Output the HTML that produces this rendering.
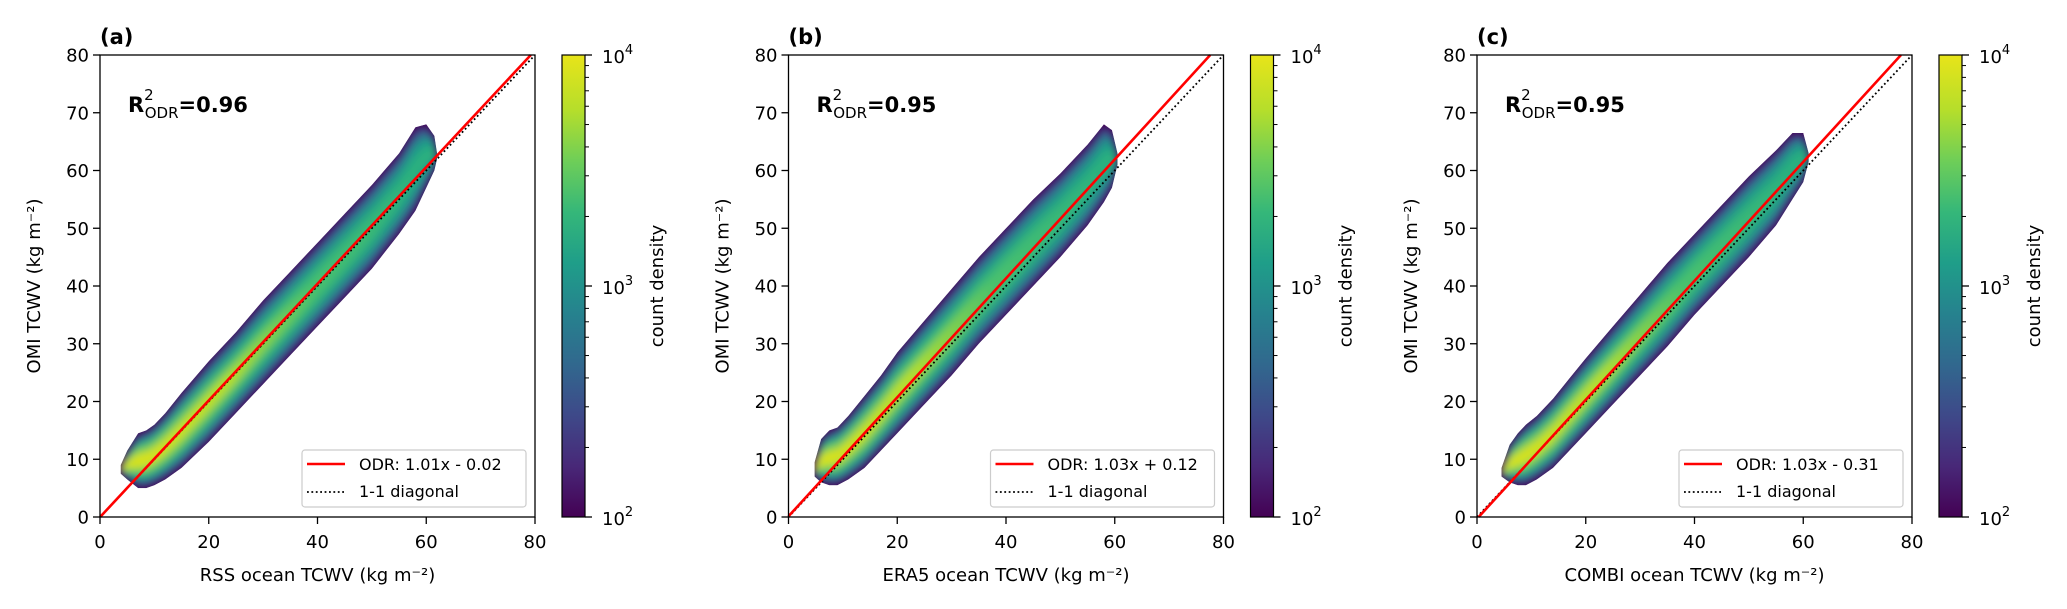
<!DOCTYPE html>
<html><head><meta charset="utf-8">
<style>
html,body{margin:0;padding:0;background:#fff;}
svg{display:block;font-family:"DejaVu Sans","Liberation Sans",sans-serif;}
</style></head>
<body>
<svg id="fig" width="2067" height="609" viewBox="0 0 2067 609" xmlns="http://www.w3.org/2000/svg">
<defs>
<linearGradient id="viridis" x1="0" y1="1" x2="0" y2="0">
<stop offset="0" stop-color="#440154"/><stop offset="0.11" stop-color="#482878"/>
<stop offset="0.22" stop-color="#3e4989"/><stop offset="0.33" stop-color="#31688e"/>
<stop offset="0.44" stop-color="#26828e"/><stop offset="0.55" stop-color="#1f9e89"/>
<stop offset="0.66" stop-color="#35b779"/><stop offset="0.77" stop-color="#6ece58"/>
<stop offset="0.88" stop-color="#b5de2b"/><stop offset="1" stop-color="#e8e419"/>
</linearGradient>
<filter id="blur" x="-10%" y="-10%" width="120%" height="120%"><feGaussianBlur stdDeviation="4"/></filter>
</defs>
</svg>
<script>
// ---- data ----
const panelLetters = ['(a)','(b)','(c)'];
const xLabels = ['RSS ocean TCWV (kg m⁻²)','ERA5 ocean TCWV (kg m⁻²)','COMBI ocean TCWV (kg m⁻²)'];
const r2Values = ['0.96','0.95','0.95'];
const odrSlopes = [1.01, 1.03, 1.03];
const odrIntercepts = [-0.02, 0.12, -0.31];
const odrLabels = ['ODR: 1.01x - 0.02','ODR: 1.03x + 0.12','ODR: 1.03x - 0.31'];
const axisTicks = [0,20,40,60,80];
const yTicks = [0,10,20,30,40,50,60,70,80];
const cbTickLabels = ['2','3','4'];
const cloudX_a = [3.8,5,7,8.5,10,12,15,20,25,30,35,40,45,50,55,58,60,61.5,62];
const cloudUpper_a = [9,11.5,14.5,15,16,18,21.5,27,32,37.5,42.5,47.5,52.5,57.5,63,67.5,68,66,63];
const cloudLower_a = [7.5,6.5,5,5,5.5,6.5,8.5,13,18,23,28,33,38,43,49,53,57,60,62];
const cloudX_b = [4.8,6,7.5,9,11,14,17,20,25,30,35,40,45,50,55,58,59.5,60.5];
const cloudUpper_b = [9.5,13.5,15,15.5,17.5,21,24.5,28.5,34,39.5,45,50,55,59.5,64.5,68,67,63];
const cloudLower_b = [7,6,5.5,5.5,6.5,8.5,11.5,14.5,19.5,24.5,30,35,40,45,50.5,54.5,57,61];
const cloudX_c = [4.5,6,7.5,9,11,14,17,20,25,30,35,40,45,50,55,58,60,61];
const cloudUpper_c = [8.5,12.5,14.5,16,17.5,20.5,24,27.5,33,38.5,44,49,54,59,63.5,66.5,66.5,63];
const cloudLower_c = [7,6,5.5,5.5,6.5,8.5,11.5,14.5,19.5,24.5,29.5,35,40,45,50.5,55,58,61.5];
const cloudXs = [cloudX_a, cloudX_b, cloudX_c];
const cloudUppers = [cloudUpper_a, cloudUpper_b, cloudUpper_c];
const cloudLowers = [cloudLower_a, cloudLower_b, cloudLower_c];

// ---- layout ----
const NS='http://www.w3.org/2000/svg';
const svg=document.getElementById('fig');
const defs=svg.querySelector('defs');
const W=435,H=462,T=55,B=517,DMAX=80;
function mk(tag,attrs,parent){const e=document.createElementNS(NS,tag);for(const k in attrs)e.setAttribute(k,attrs[k]);(parent||svg).appendChild(e);return e;}
const levels=[
 {f:0.95,stops:[[0,'#433e85'],[1,'#433e85']]},
 {f:0.85,stops:[[0,'#2f6b8e'],[1,'#38588c']]},
 {f:0.68,stops:[[0,'#22a884'],[0.5,'#21918c'],[1,'#23898e']]},
 {f:0.48,stops:[[0,'#7ad151'],[0.4,'#3dbc74'],[1,'#20a386']]},
 {f:0.25,stops:[[0,'#d8e219'],[0.3,'#b5de2b'],[0.6,'#4ac16d'],[1,'#2ab07f']]}
];
for(let p=0;p<3;p++){
  const L=100+688.5*p;
  const sx=v=>L+v/DMAX*W, sy=v=>B-v/DMAX*H;
  const g=mk('g',{});  
  const xs=cloudXs[p],up=cloudUppers[p],lo=cloudLowers[p];
  function poly(f){const a=[],b=[];for(let i=0;i<xs.length;i++){const c=(up[i]+lo[i])/2,h=(up[i]-lo[i])/2*f;a.push(sx(xs[i]).toFixed(1)+','+sy(c+h).toFixed(1));b.push(sx(xs[i]).toFixed(1)+','+sy(c-h).toFixed(1));}return a.concat(b.reverse()).join(' ');}
  const cp=mk('clipPath',{id:'clip'+p},defs); mk('polygon',{points:poly(1)},cp);
  const cloud=mk('g',{'clip-path':'url(#clip'+p+')'},g);
   
  mk('polygon',{points:poly(1),fill:'#440154'},cloud);
  const inner=mk('g',{filter:'url(#blur)'},cloud);
  levels.forEach((lv,li)=>{
    const gid='lg'+p+'_'+li;
    const lg=mk('linearGradient',{id:gid,gradientUnits:'userSpaceOnUse',x1:sx(8),y1:sy(8),x2:sx(60),y2:sy(60)},defs);
    lv.stops.forEach(s=>mk('stop',{offset:s[0],'stop-color':s[1]},lg));
    mk('polygon',{points:poly(lv.f),fill:'url(#'+gid+')'},inner);
  });
  const xEnd=Math.min(DMAX,(DMAX-odrIntercepts[p])/odrSlopes[p]);
  const xStart=Math.max(0,-odrIntercepts[p]/odrSlopes[p]);
  const diag=mk('line',{x1:sx(0),y1:sy(0),x2:sx(80),y2:sy(80),stroke:'#000','stroke-width':1.8,'stroke-dasharray':'1.8 2.6'},g);
   
  const odr=mk('line',{x1:sx(xStart),y1:sy(odrSlopes[p]*xStart+odrIntercepts[p]),x2:sx(xEnd),y2:sy(odrSlopes[p]*xEnd+odrIntercepts[p]),stroke:'#ff0000','stroke-width':2.6},g);
   
  const fr=mk('rect',{x:L,y:T,width:W,height:H,fill:'none',stroke:'#000','stroke-width':1.3},g);
   
  axisTicks.forEach(v=>{
    mk('line',{x1:sx(v),y1:B,x2:sx(v),y2:B+7,stroke:'#000','stroke-width':1.3},g);
    const t=mk('text',{x:sx(v),y:548,'font-size':18,'text-anchor':'middle'},g);t.textContent=v;
     
  });
  yTicks.forEach(v=>{
    mk('line',{x1:L-7,y1:sy(v),x2:L,y2:sy(v),stroke:'#000','stroke-width':1.3},g);
    const t=mk('text',{x:L-11,y:sy(v)+6.5,'font-size':18,'text-anchor':'end'},g);t.textContent=v;
     
  });
  const xl=mk('text',{x:L+W/2,y:581,'font-size':18,'text-anchor':'middle'},g);xl.textContent=xLabels[p];
   
  const yl=mk('text',{x:0,y:0,'font-size':18,'text-anchor':'middle',transform:'translate('+(L-60)+','+(T+H/2)+') rotate(-90)'},g);yl.textContent='OMI TCWV (kg m⁻²)';
   
  const pl=mk('text',{x:L,y:44,'font-size':21,'font-weight':'bold'},g);pl.textContent=panelLetters[p];
   
  const r2=mk('text',{x:L+28,y:112,'font-size':21,'font-weight':'bold'},g);
   
  const t1=mk('tspan',{},r2);t1.textContent='R';
  const t2=mk('tspan',{'font-size':15,'font-weight':'normal',dy:-12},r2);t2.textContent='2';
  const t3=mk('tspan',{'font-size':15,'font-weight':'normal',dx:-9,dy:18},r2);t3.textContent='ODR';
  const t4=mk('tspan',{dy:-6},r2);t4.textContent='='+r2Values[p];
  const lgd=mk('g',{},g);  
  mk('rect',{x:L+202,y:450,width:224,height:57,rx:3,fill:'#fff','fill-opacity':0.85,stroke:'#cccccc','stroke-width':1.2},lgd);
  mk('line',{x1:L+207,y1:464,x2:L+245,y2:464,stroke:'#ff0000','stroke-width':2.6},lgd);
  mk('line',{x1:L+207,y1:492,x2:L+245,y2:492,stroke:'#000','stroke-width':1.8,'stroke-dasharray':'1.8 2.6'},lgd);
  const e1=mk('text',{x:L+259,y:470,'font-size':16},lgd);e1.textContent=odrLabels[p];
   
  const e2=mk('text',{x:L+259,y:497,'font-size':16},lgd);e2.textContent='1-1 diagonal';
   
  const cx=L+462,cw=23;
  const cb=mk('g',{},g);  
  mk('rect',{x:cx,y:T,width:cw,height:H,fill:'url(#viridis)',stroke:'#000','stroke-width':1.2},cb);
  const cy=v=>B-(v-2)/2*H;
  for(let k=2;k<4;k++){for(let m=2;m<=9;m++){const yy=cy(k+Math.log10(m));mk('line',{x1:cx+cw,y1:yy,x2:cx+cw+4,y2:yy,stroke:'#000','stroke-width':1},cb);}}
  cbTickLabels.forEach(e=>{
    const yy=cy(+e);
    mk('line',{x1:cx+cw,y1:yy,x2:cx+cw+7,y2:yy,stroke:'#000','stroke-width':1.3},cb);
    const t=mk('text',{x:cx+cw+17,y:yy+8,'font-size':18},cb);
     
    const a=mk('tspan',{},t);a.textContent='10';
    const b=mk('tspan',{'font-size':13,dy:-9},t);b.textContent=e;
  });
  const cl=mk('text',{x:0,y:0,'font-size':18,'text-anchor':'middle',transform:'translate('+(cx+cw+78)+','+(T+H/2)+') rotate(-90)'},cb);cl.textContent='count density';
   
}
</script>
</body></html>
